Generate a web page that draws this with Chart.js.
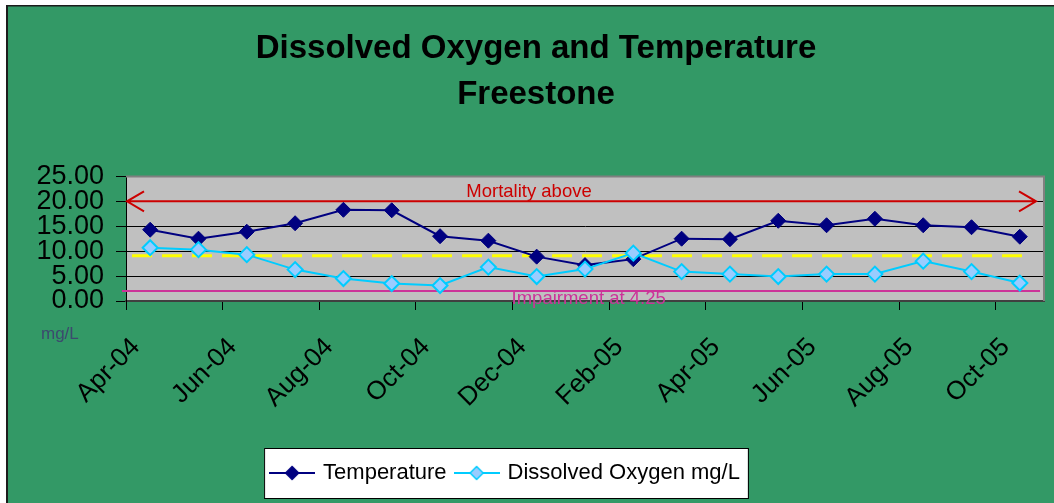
<!DOCTYPE html>
<html>
<head>
<meta charset="utf-8">
<title>Dissolved Oxygen and Temperature - Freestone</title>
<script src="https://cdn.jsdelivr.net/npm/chart.js@4.4.1/dist/chart.umd.min.js"></script>
<style>
    html, body { margin: 0; padding: 0; background: #fff; }
    canvas { display: block; }
</style>
</head>
<body>
<canvas id="doChart" width="1054" height="503"></canvas>
<script>
// Dissolved Oxygen and Temperature - Freestone

// Monthly samples, Apr-04 .. Oct-05
const months = [
    'Apr-04', 'May-04', 'Jun-04', 'Jul-04', 'Aug-04', 'Sep-04', 'Oct-04', 'Nov-04', 'Dec-04',
    'Jan-05', 'Feb-05', 'Mar-05', 'Apr-05', 'May-05', 'Jun-05', 'Jul-05', 'Aug-05', 'Sep-05', 'Oct-05'
];
const xTickLabels = ['Apr-04', 'Jun-04', 'Aug-04', 'Oct-04', 'Dec-04', 'Feb-05', 'Apr-05', 'Jun-05', 'Aug-05', 'Oct-05'];
const yTicks = [0, 5, 10, 15, 20, 25];

const temperature = [14.3, 12.5, 13.9, 15.6, 18.3, 18.2, 13.0, 12.1, 8.9, 7.2, 8.4, 12.5, 12.4, 16.1, 15.2, 16.5, 15.2, 14.8, 12.9];
const dissolvedOxygen = [10.7, 10.3, 9.3, 6.3, 4.5, 3.5, 3.1, 6.8, 4.9, 6.4, 9.6, 5.9, 5.4, 4.9, 5.4, 5.4, 8.0, 5.9, 3.6];

// reference levels drawn across the plot
const mortalityLevel = 20;
const yellowLevel = 9.1;
const impairmentLevel = 2;

const FONT = "'Liberation Sans', Arial, sans-serif";

// legend icon: short line with a diamond in the middle
function makeIcon(lineColor, fill, stroke) {
    const c = document.createElement('canvas');
    c.width = 46;
    c.height = 18;
    const g = c.getContext('2d');
    g.strokeStyle = lineColor;
    g.lineWidth = 2;
    g.beginPath();
    g.moveTo(0, 9);
    g.lineTo(46, 9);
    g.stroke();
    g.beginPath();
    g.moveTo(23, 2.5);
    g.lineTo(29.5, 9);
    g.lineTo(23, 15.5);
    g.lineTo(16.5, 9);
    g.closePath();
    g.fillStyle = fill;
    g.fill();
    g.strokeStyle = stroke;
    g.lineWidth = 1.5;
    g.stroke();
    return c;
}
const legendIcons = [
    makeIcon('#000080', '#000080', '#000080'),
    makeIcon('#00CCFF', '#99CCFF', '#00CCFF')
];

const chartDecor = {
    id: 'chartDecor',
    afterLayout(chart) {
        // the original sits the legend a bit left and the title a bit right
        chart.legend.left -= 16;
        chart.legend.right -= 16;
        chart.titleBlock.left += 14;
        chart.titleBlock.right += 14;
    },
    beforeDraw(chart) {
        const ctx = chart.ctx;
        const a = chart.chartArea;
        ctx.save();
        ctx.fillStyle = '#ffffff';
        ctx.fillRect(0, 0, chart.width, chart.height);
        ctx.fillStyle = '#339966';
        ctx.fillRect(7, 6, chart.width - 7, chart.height - 6);
        ctx.fillStyle = '#1c1c1c';
        ctx.fillRect(6, 5, 2, chart.height - 5);
        ctx.fillRect(6, 5, chart.width - 6, 1.5);

        // plot area
        ctx.fillStyle = '#c0c0c0';
        ctx.fillRect(a.left, a.top, a.right - a.left, a.bottom - a.top);

        // legend box
        const boxes = chart.legend.legendHitBoxes;
        if (boxes && boxes.length) {
            const left = Math.min(...boxes.map(b => b.left)) - 8;
            const right = Math.max(...boxes.map(b => b.left + b.width)) + 8;
            const top = boxes[0].top - 14;
            const bottom = boxes[0].top + boxes[0].height + 14;
            ctx.fillStyle = '#ffffff';
            ctx.fillRect(left, top, right - left, bottom - top);
            ctx.strokeStyle = '#000000';
            ctx.lineWidth = 1;
            ctx.strokeRect(left + 0.5, top + 0.5, right - left, bottom - top);
        }
        ctx.restore();
    },
    beforeDatasetsDraw(chart) {
        const ctx = chart.ctx;
        const a = chart.chartArea;
        const y = chart.scales.y;
        ctx.save();

        // plot frame
        ctx.strokeStyle = '#808080';
        ctx.lineWidth = 2;
        ctx.beginPath();
        ctx.moveTo(a.left, a.top);
        ctx.lineTo(a.right, a.top);
        ctx.lineTo(a.right, a.bottom);
        ctx.stroke();

        // yellow dashed level
        const yy = y.getPixelForValue(yellowLevel);
        ctx.strokeStyle = '#ffff00';
        ctx.lineWidth = 3;
        ctx.setLineDash([20, 10]);
        ctx.beginPath();
        ctx.moveTo(a.left + 6, yy);
        ctx.lineTo(a.right - 12, yy);
        ctx.stroke();
        ctx.setLineDash([]);

        // impairment line
        const yi = y.getPixelForValue(impairmentLevel);
        ctx.strokeStyle = '#cc3399';
        ctx.lineWidth = 2;
        ctx.beginPath();
        ctx.moveTo(a.left - 4, yi);
        ctx.lineTo(a.right - 4, yi);
        ctx.stroke();

        // mortality line with arrow heads at both ends
        const ym = y.getPixelForValue(mortalityLevel);
        const x0 = a.left + 1;
        const x1 = a.right - 8;
        ctx.strokeStyle = '#cc0000';
        ctx.lineWidth = 2;
        ctx.beginPath();
        ctx.moveTo(x0, ym);
        ctx.lineTo(x1, ym);
        ctx.moveTo(x0 + 17, ym - 10);
        ctx.lineTo(x0, ym);
        ctx.lineTo(x0 + 17, ym + 10);
        ctx.moveTo(x1 - 17, ym - 10);
        ctx.lineTo(x1, ym);
        ctx.lineTo(x1 - 17, ym + 10);
        ctx.stroke();

        ctx.font = '18.5px ' + FONT;
        ctx.textAlign = 'center';
        ctx.textBaseline = 'middle';
        ctx.fillStyle = '#cc0000';
        ctx.fillText('Mortality above', a.left + (a.right - a.left) * 0.439, ym - 9);
        ctx.restore();
    },
    afterDraw(chart) {
        const ctx = chart.ctx;
        const a = chart.chartArea;
        const yi = chart.scales.y.getPixelForValue(impairmentLevel);
        ctx.save();
        ctx.font = '18.5px ' + FONT;
        ctx.textAlign = 'center';
        ctx.textBaseline = 'middle';
        ctx.fillStyle = '#cc3399';
        ctx.fillText('Impairment at 4.25', a.left + (a.right - a.left) * 0.504, yi + 8);

        ctx.font = '17px ' + FONT;
        ctx.textAlign = 'left';
        ctx.fillStyle = '#3c4a6e';
        ctx.fillText('mg/L', 41, 334);
        ctx.restore();
    }
};

const ctx = document.getElementById('doChart').getContext('2d');

const doChart = new Chart(ctx, {
    type: 'line',
    data: {
        datasets: [
            {
                label: 'Temperature',
                data: months.map((m, i) => ({ x: i + 0.5, y: temperature[i] })),
                borderColor: '#000080',
                backgroundColor: '#000080',
                pointBackgroundColor: '#000080',
                pointBorderColor: '#000080',
                borderWidth: 2,
                pointStyle: 'rectRot',
                pointRadius: 7.5,
                pointBorderWidth: 1,
                order: 2
            },
            {
                label: 'Dissolved Oxygen mg/L',
                data: months.map((m, i) => ({ x: i + 0.5, y: dissolvedOxygen[i] })),
                borderColor: '#00CCFF',
                backgroundColor: '#99CCFF',
                pointBackgroundColor: '#99CCFF',
                pointBorderColor: '#00CCFF',
                borderWidth: 2,
                pointStyle: 'rectRot',
                pointRadius: 7.5,
                pointBorderWidth: 2,
                order: 1
            }
        ]
    },
    options: {
        responsive: false,
        animation: false,
        layout: {
            padding: { top: 0, left: 0, right: 10, bottom: 9 }
        },
        scales: {
            x: {
                type: 'linear',
                min: 0,
                max: months.length,
                afterBuildTicks: axis => {
                    axis.ticks = xTickLabels.map(l => ({ value: months.indexOf(l) }));
                },
                afterFit: scale => { scale.height = 151; },
                ticks: {
                    callback: v => months[v],
                    autoSkip: false,
                    minRotation: 45,
                    maxRotation: 45,
                    padding: 22,
                    labelOffset: 10,
                    color: '#000',
                    font: { family: FONT, size: 26 }
                },
                grid: {
                    drawOnChartArea: false,
                    drawTicks: true,
                    tickLength: 9,
                    color: '#000'
                },
                border: { color: '#404040', width: 2 }
            },
            y: {
                min: 0,
                max: 25,
                afterBuildTicks: axis => {
                    axis.ticks = yTicks.map(v => ({ value: v }));
                },
                afterFit: scale => { scale.width = 126; },
                ticks: {
                    callback: v => v.toFixed(2),
                    autoSkip: false,
                    padding: 12,
                    color: '#000',
                    font: { family: FONT, size: 27 }
                },
                grid: {
                    color: '#000',
                    lineWidth: 1,
                    tickLength: 10
                },
                border: { color: '#000', width: 1 }
            }
        },
        plugins: {
            title: {
                display: true,
                text: ['Dissolved Oxygen and Temperature', 'Freestone'],
                color: '#000',
                font: { family: FONT, size: 33, weight: 'bold', lineHeight: 1.4 },
                padding: { top: 26, bottom: 58 }
            },
            legend: {
                position: 'bottom',
                labels: {
                    usePointStyle: true,
                    pointStyleWidth: 40,
                    padding: 10,
                    color: '#000',
                    font: { family: FONT, size: 22 },
                    sort: (a, b) => a.datasetIndex - b.datasetIndex,
                    generateLabels: chart => {
                        const items = Chart.defaults.plugins.legend.labels.generateLabels(chart);
                        items.forEach(item => { item.pointStyle = legendIcons[item.datasetIndex]; });
                        return items;
                    }
                }
            },
            tooltip: { enabled: false }
        }
    },
    plugins: [chartDecor]
});
</script>
</body>
</html>
